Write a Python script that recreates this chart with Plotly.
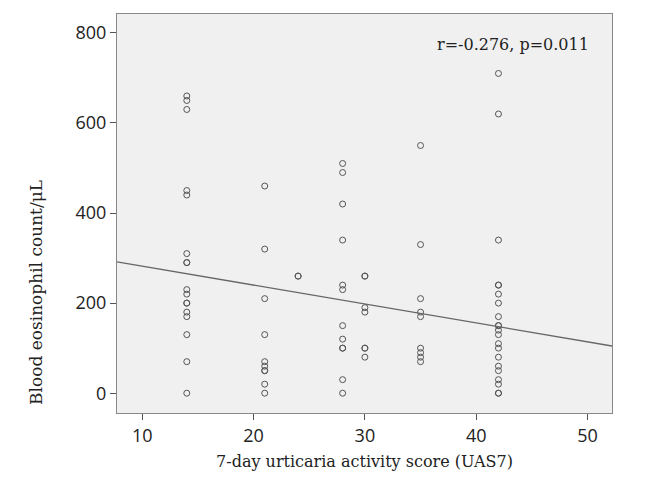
import plotly.graph_objects as go

# UAS7 score groups and eosinophil counts
uas_14 = [660, 650, 630, 450, 440, 310, 290, 290, 230, 220, 200, 200, 180, 170, 130, 70, 0]
uas_21 = [460, 320, 210, 130, 70, 60, 50, 50, 20, 0]
uas_24 = [260, 260]
uas_28 = [510, 490, 420, 340, 240, 230, 150, 120, 100, 100, 30, 0]
uas_30 = [260, 260, 190, 180, 100, 100, 80]
uas_35 = [550, 330, 210, 180, 170, 100, 90, 80, 70]
uas_42 = [710, 620, 340, 240, 240, 220, 200, 170, 150, 150, 140, 130, 110, 100, 80, 60, 50, 30, 20, 0, 0]

groups = {14: uas_14, 21: uas_21, 24: uas_24, 28: uas_28, 30: uas_30, 35: uas_35, 42: uas_42}

# Fit line
FIT_INTERCEPT = 324.0
FIT_SLOPE = -4.2

X_RANGE = [7.73, 52.2]
Y_RANGE = [-44, 842]
x_ticks = [10, 20, 30, 40, 50]
y_ticks = [0, 200, 400, 600, 800]
annotation_text = "r=-0.276, p=0.011"
x_title = "7-day urticaria activity score (UAS7)"
y_title = "Blood eosinophil count/μL"

xs, ys = [], []
for k, vals in groups.items():
    xs += [k] * len(vals)
    ys += vals

fig = go.Figure()
fig.add_trace(go.Scatter(
    x=xs, y=ys, mode="markers",
    marker=dict(symbol="circle-open", size=6, color="#555555", line=dict(width=1, color="#555555")),
    showlegend=False, hoverinfo="skip",
))
fit_x = X_RANGE
fit_y = [FIT_INTERCEPT + FIT_SLOPE * v for v in fit_x]
fig.add_trace(go.Scatter(
    x=fit_x, y=fit_y, mode="lines",
    line=dict(color="#666666", width=1.3),
    showlegend=False, hoverinfo="skip",
))

W, H = 670, 481
ml, mr, mt, mb = 109, 66, 6, 76
pw = W - ml - mr
ph = H - mt - mb

serif = "DejaVu Serif"
sans = "Open Sans"

fig.update_layout(
    width=W, height=H,
    margin=dict(l=ml, r=mr, t=mt, b=mb, pad=0),
    paper_bgcolor="white",
    plot_bgcolor="#f0f0f0",
    xaxis=dict(
        range=X_RANGE, tickvals=x_ticks, ticks="outside", ticklen=6, tickcolor="#555555",
        showline=True, linecolor="#888888", linewidth=1, mirror=True,
        showgrid=False, zeroline=False,
        tickfont=dict(family=sans, size=18, color="#222222"),
        title=dict(text=x_title, font=dict(family=serif, size=16, color="#222222"), standoff=10),
    ),
    yaxis=dict(
        range=Y_RANGE, tickvals=y_ticks, ticks="outside", ticklen=6, tickcolor="#555555",
        showline=True, linecolor="#888888", linewidth=1, mirror=True,
        showgrid=False, zeroline=False,
        tickfont=dict(family=sans, size=18, color="#222222"),
    ),
    annotations=[
        dict(text=annotation_text, xref="paper", yref="paper",
             x=(582.7 - ml) / pw, y=(H - mb - 36.7) / ph, xanchor="right", yanchor="middle",
             showarrow=False, font=dict(family=serif, size=16, color="#222222")),
        dict(text=y_title, xref="paper", yref="paper",
             x=(28 - ml) / pw, y=(H - mb - 285) / ph, xanchor="center", yanchor="middle",
             textangle=-90, showarrow=False, font=dict(family=serif, size=17, color="#222222")),
    ],
    shapes=[
        dict(type="line", xref="paper", yref="paper",
             x0=-ml / pw, x1=(W - ml) / pw, y0=(H - mb - 478) / ph, y1=(H - mb - 478) / ph,
             line=dict(color="black", width=4)),
    ],
)

fig.write_html("out.html")
